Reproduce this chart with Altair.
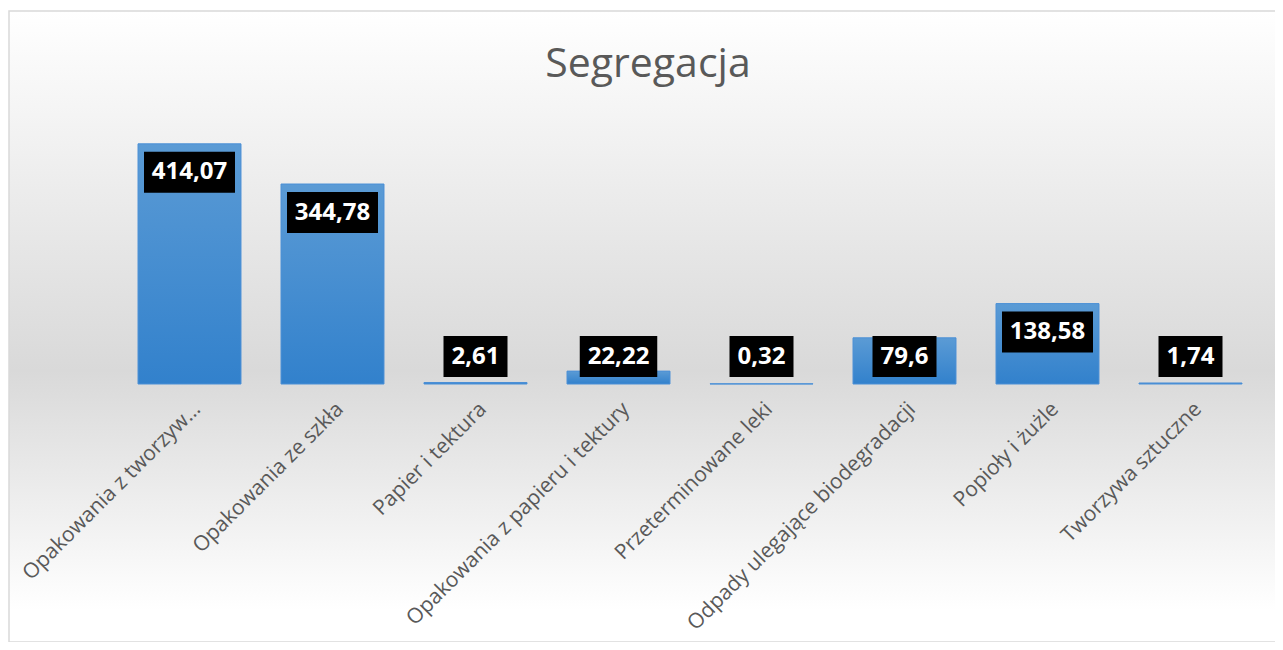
import altair as alt
import pandas as pd

categories = [
    "Opakowania z tworzyw…",
    "Opakowania ze szkła",
    "Papier i tektura",
    "Opakowania z papieru i tektury",
    "Przeterminowane leki",
    "Odpady ulegające biodegradacji",
    "Popioły i żużle",
    "Tworzywa sztuczne",
]
values = [414.07, 344.78, 2.61, 22.22, 0.32, 79.6, 138.58, 1.74]
labels = [str(v).replace(".", ",") for v in values]
title_text = ["Segregacja"]

W = 1144
H = 261
YMAX = 450.0
PX = H / YMAX  # pixels per unit

df = pd.DataFrame({"kategoria": categories, "wartosc": values, "etykieta": labels})

x_enc = alt.X("kategoria:N", sort=categories,
              scale=alt.Scale(paddingInner=0.28, paddingOuter=0.14),
              axis=alt.Axis(title=None, labelAngle=-45, labelFontSize=21,
                            labelFont="Open Sans", labelColor="#595959",
                            labelPadding=14, ticks=False, domain=False,
                            labelLimit=500, zindex=1))
y_scale = alt.Scale(domain=[0, YMAX], nice=False, zero=True)

background = alt.Chart(pd.DataFrame({"a": [0]})).mark_rect(
    fill=alt.Gradient(gradient="linear", x1=0, y1=0, x2=0, y2=1,
                      stops=[alt.GradientStop(offset=0, color="#ffffff"),
                             alt.GradientStop(offset=0.57, color="#d9d9d9"),
                             alt.GradientStop(offset=0.95, color="#ffffff"),
                             alt.GradientStop(offset=1, color="#ffffff")]),
    stroke="#d9d9d9", strokeWidth=1.5,
).encode(x=alt.value(-109), x2=alt.value(W + 40),
         y=alt.value(-112), y2=alt.value(H + 258))

title = alt.Chart(pd.DataFrame({"t": title_text})).mark_text(
    font="Open Sans", fontSize=41, color="#595959", align="center",
    baseline="alphabetic",
).encode(x=alt.value(W / 2 - 42), y=alt.value(-46), text="t:N")

bars = alt.Chart(df).mark_bar(
    fill=alt.Gradient(gradient="linear", x1=0, y1=0, x2=0, y2=1,
                      stops=[alt.GradientStop(offset=0, color="#5b9bd5"),
                             alt.GradientStop(offset=1, color="#3281cc")]),
    stroke="#4a8fd6", strokeWidth=1,
).encode(x=x_enc, y=alt.Y("wartosc:Q", scale=y_scale, axis=None))

base_lab = alt.Chart(df).transform_calculate(
    anchor=f"max(datum.wartosc, {56 / PX})"
).transform_calculate(
    box_top=f"datum.anchor - {8 / PX}",
    box_bot=f"datum.anchor - {49 / PX}",
    mid=f"datum.anchor - {28.5 / PX}",
    bw="length(datum.etykieta) * 13.5 + 10",
)

boxes = base_lab.mark_bar(color="#000000").encode(
    x=alt.X("kategoria:N", sort=categories),
    y=alt.Y("box_top:Q", scale=y_scale),
    y2="box_bot:Q",
    size=alt.Size("bw:Q", scale=None),
)

texts = base_lab.mark_text(color="#ffffff", font="Open Sans", fontWeight="bold",
                           fontSize=24, baseline="middle", align="center").encode(
    x=alt.X("kategoria:N", sort=categories),
    y=alt.Y("mid:Q", scale=y_scale),
    text="etykieta:N",
)

chart = alt.layer(background, title, bars, boxes, texts).properties(
    width=W, height=H,
    padding={"left": 110, "top": 115, "right": 13, "bottom": 258},
    autosize=alt.AutoSizeParams(type="none"),
).configure_view(stroke=None).configure(background="#ffffff")

chart.save("out.html", embed_options={"renderer": "svg", "actions": False})
